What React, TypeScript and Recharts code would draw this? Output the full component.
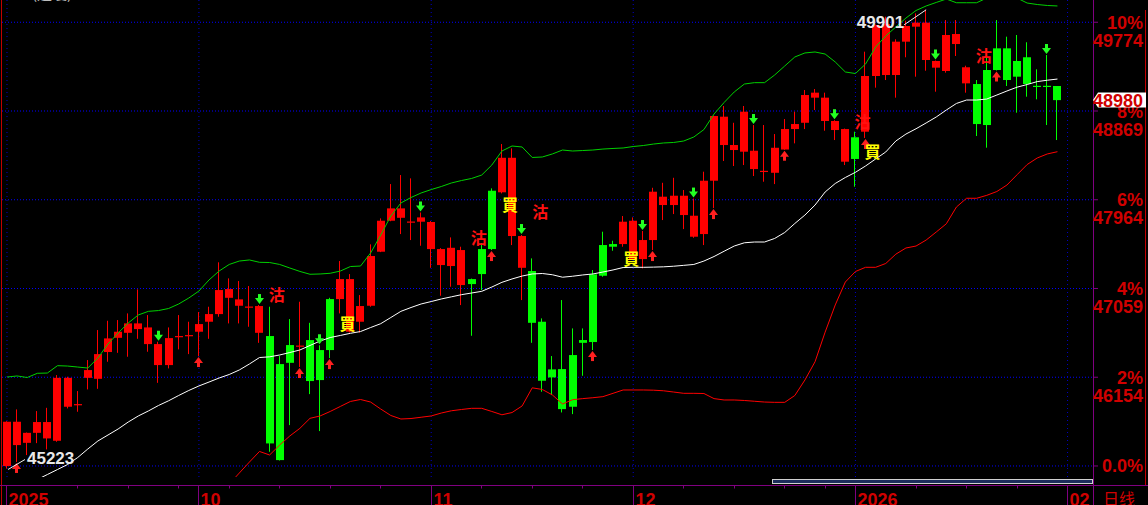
import React from 'react';
import { ComposedChart, Bar, Line, XAxis, YAxis, Scatter, CartesianGrid } from 'recharts';

// ---- data (daily candles, index 0..104) ----
const openP = [45248,45462,45485,45587,45530,45506,45853,45877,46148,46138,
46411,46556,46607,46645,46492,46278,46278,46569,46579,46618,
46720,46798,46964,46883,46870,46607,46574,46288,46482,46472,
46533,46431,46951,46951,46618,46720,46883,47434,47750,47780,
47737,47740,47461,47298,47288,47094,47155,47461,48056,48040,
47594,47270,47237,46720,46234,46237,46380,46533,47203,47502,
47512,47512,47356,47359,47553,47910,47910,47808,47587,47614,
48158,48522,48471,48454,48277,48255,48239,48476,48685,48749,
49005,48767,48675,48352,48601,48658,49226,49236,49236,49576,
49729,49389,49311,49277,49552,49151,49144,49287,49508,49508,
49379,49417,49126,49126,49124];

const highP = [45705,45826,45590,45809,45842,46176,46159,46013,46329,46635,
46730,46737,46805,47050,46788,46516,46662,46788,46720,46819,
46873,47326,47162,47135,47084,46890,46873,46370,46747,46924,
46709,46480,46964,47339,47206,46992,47509,47774,48124,48216,
48182,47834,47747,47471,47580,47485,47160,47522,48080,48532,
48488,47604,47366,46754,46370,46941,46652,46652,47247,47638,
47546,47798,47784,47645,48086,48137,48188,48063,47976,48250,
48823,48920,48749,48920,48726,48726,48634,48787,48862,49083,
49093,49056,48775,48690,48658,49474,49751,49831,49600,49790,
49865,49901,49384,49797,49797,49331,49185,49491,49797,49627,
49644,49570,49294,49440,49124];

const lowP = [45223,45290,45360,45482,45418,45496,45836,45802,46030,46036,
46312,46403,46363,46546,46414,46097,46244,46438,46390,46370,
46546,46771,46703,46703,46669,46505,45394,45305,45666,46258,
45982,45605,46349,46805,46610,46610,46873,47430,47745,47614,
47553,47495,47270,46985,47077,46890,46577,47043,47451,48029,
47502,46941,46505,46006,45972,45795,45778,46169,46431,47179,
47444,47485,47349,47264,47451,47757,47818,47665,47576,47502,
47879,48359,48308,48318,48206,48148,48124,48474,48539,48685,
48879,48668,48573,48318,48097,48594,49107,49185,49005,49417,
49219,49280,49066,49260,49430,49056,48614,48495,49282,49124,
48852,49015,48988,48726,48573];

const closeP = [45700,45700,45587,45697,45697,46148,46148,45880,46227,46390,
46550,46618,46703,46703,46662,46492,46553,46574,46584,46696,
46798,47043,47053,46948,46875,46880,45479,45309,46301,46477,
46115,46125,46431,47155,47155,46880,47390,47750,47876,47876,
47742,47784,47737,47461,47474,47451,47104,47206,47461,48392,
48392,47594,46709,46118,46152,45829,45853,46505,46513,47189,
47485,47740,47750,47553,48046,47995,48005,48005,47801,48158,
48818,48811,48522,48862,48464,48259,48494,48685,48736,49032,
49056,49005,48767,48685,48380,49226,49746,49756,49576,49736,
49770,49770,49379,49644,49654,49315,48736,48726,49287,49185,
49219,49144,49122,49122,48980];

// Bollinger bands
const upperBand = [46156,46167,46151,46194,46197,46272,46268,46258,46248,46350,
46493,46605,46707,46789,46826,46834,46855,46901,46962,47033,
47146,47237,47304,47339,47350,47326,47324,47304,47268,47233,
47204,47207,47214,47237,47283,47288,47421,47604,47798,47931,
47987,48033,48068,48099,48135,48160,48181,48216,48318,48461,
48512,48502,48395,48400,48431,48471,48461,48466,48471,48481,
48487,48492,48507,48517,48532,48543,48548,48563,48604,48680,
48838,48956,49063,49144,49158,49158,49236,49328,49420,49461,
49471,49450,49369,49267,49251,49348,49522,49634,49726,49817,
49894,49940,49976,50011,49973,49973,49973,50021,50032,50032,
50021,49970,49955,49945,49940];

const midBand = [44943,45004,45065,45111,45162,45213,45264,45335,45422,45504,
45565,45626,45697,45759,45810,45866,45914,45968,46019,46065,
46105,46146,46182,46228,46289,46355,46362,46381,46406,46432,
46478,46523,46559,46580,46602,46620,46661,46700,46763,46826,
46865,46901,46926,46952,46974,46996,47013,47030,47074,47122,
47156,47186,47207,47212,47199,47174,47184,47197,47207,47227,
47248,47273,47275,47275,47277,47280,47286,47295,47304,47339,
47385,47439,47492,47525,47533,47533,47569,47630,47722,47808,
47910,48043,48130,48191,48244,48308,48380,48451,48563,48634,
48688,48747,48808,48879,48946,48981,48981,48991,49032,49073,
49112,49139,49169,49183,49195];

const lowerBand = [null,null,null,null,null,null,null,null,null,null,
null,null,null,null,null,null,null,null,null,null,
null,null,45065,45177,45289,45397,45361,45463,45555,45633,
45735,45759,45805,45856,45907,45927,45901,45830,45764,45728,
45733,45746,45759,45789,45812,45825,45837,45837,45805,45771,
45794,45861,46046,46029,45973,45881,45925,45936,45945,45956,
45990,46024,46024,46024,46022,46016,46003,45990,45990,45988,
45936,45922,45922,45917,45909,45901,45898,45898,45968,46126,
46312,46614,46891,47125,47232,47275,47275,47314,47409,47472,
47492,47553,47635,47719,47890,47979,47979,48009,48048,48114,
48219,48323,48390,48431,48454];

// signal arrows (candle indices)
const downArrowIdx = [15, 25, 31, 41, 51, 63, 68, 74, 82, 92, 103];
const upArrowIdx = [1, 19, 29, 32, 48, 58, 64, 70, 77, 85, 98];

// buy / sell annotations (index position, price level)
const sellIdx = [26.7, 46.7, 52.8, 84.7, 96.7];
const sellLevel = [46993, 47574, 47839, 48757, 49430];
const buyIdx = [33.7, 49.8, 61.8, 85.7];
const buyLevel = [46697, 47910, 47360, 48451];

// axes
const basePrice = 45249;
const gridValues = [45249, 46154, 47059, 47964, 48869, 49774];
const pctLabels = ['0.0%', '2%', '4%', '6%', '8%', '10%'];
const monthTicks = [0, 19, 42, 62, 84, 105];
const monthLabels = ['2025', '10', '11', '12', '2026', '02'];
const weekTicks = [7, 12, 17, 22, 27, 32, 37, 47, 52, 57, 67, 72, 77, 81, 90, 95, 100];

// ---- derived table ----
const data = openP.map((o, i) => ({
  i,
  open: o,
  high: highP[i],
  low: lowP[i],
  close: closeP[i],
  range: [lowP[i], highP[i]],
  upper: upperBand[i],
  mid: midBand[i],
  lower: lowerBand[i],
}));
const lastClose = closeP[closeP.length - 1];
const maxHigh = Math.max(...highP);
const minLow = Math.min(...lowP);
const downData = downArrowIdx.map((i) => ({ i, v: highP[i] }));
const upData = upArrowIdx.map((i) => ({ i, v: lowP[i] }));
const highMark = [{ i: highP.indexOf(maxHigh), v: maxHigh }];
const lowMark = [{ i: lowP.indexOf(minLow), v: minLow }];
const sellData = sellIdx.map((i, k) => ({ i, v: sellLevel[k] }));
const buyData = buyIdx.map((i, k) => ({ i, v: buyLevel[k] }));

const UP = '#ff0000';
const DOWN = '#00ff00';
const AXIS_RED = '#d00000';
const PURPLE = '#800080';
const FONT = '"Liberation Sans", Arial, sans-serif';
const CJK = '"Noto Sans CJK TC", "Noto Sans CJK SC", sans-serif';

const wickX = (cx: number) => Math.round(cx - 4) + 3;

function Candle(props: any) {
  const { x, y, width, height, payload } = props;
  if (!payload || height == null || isNaN(y)) return null;
  const { open, close, high, low } = payload;
  const k = height / (high - low || 1);
  const yOf = (v: number) => y + (high - v) * k;
  const cx = x + width / 2;
  const upC = close >= open;
  const col = upC ? UP : DOWN;
  const bt = yOf(Math.max(open, close));
  const bb = yOf(Math.min(open, close));
  const bx = Math.round(cx - 4);
  return (
    <g>
      <rect x={bx + 3} y={y} width={1} height={Math.max(height, 1)} fill={col} />
      <rect x={bx} y={bt} width={8} height={Math.max(bb - bt, 1.2)} fill={col} />
    </g>
  );
}

function DownArrow(props: any) {
  const { cx, cy } = props;
  const wx = wickX(cx);
  const c = wx + 0.5;
  const top = cy - 11;
  return (
    <g fill="#22ff22">
      <rect x={wx - 1} y={top} width={3} height={5} />
      <polygon points={`${c - 4.5},${top + 4} ${c + 4.5},${top + 4} ${c},${top + 10}`} />
    </g>
  );
}

function UpArrow(props: any) {
  const { cx, cy } = props;
  const wx = wickX(cx);
  const c = wx + 0.5;
  const top = cy + 1;
  return (
    <g fill="#ff2020">
      <polygon points={`${c},${top} ${c - 4.5},${top + 6} ${c + 4.5},${top + 6}`} />
      <rect x={wx - 1} y={top + 5} width={3} height={5} />
    </g>
  );
}

function HighLabel(props: any) {
  const { cx, cy, payload } = props;
  return (
    <g>
      <line x1={cx - 22} y1={cy + 15} x2={cx} y2={cy} stroke="#f0f0f0" strokeWidth={1} />
      <text x={cx - 22} y={cy + 18.5} textAnchor="end" fill="#e8e8e8" fontSize={17} fontWeight="bold" fontFamily={FONT}>
        {payload.v}
      </text>
    </g>
  );
}

function LowLabel(props: any) {
  const { cx, cy, payload } = props;
  return (
    <g>
      <line x1={cx + 1} y1={cy + 1} x2={cx + 18} y2={cy - 9} stroke="#f0f0f0" strokeWidth={1} />
      <text x={cx + 20} y={cy - 5} textAnchor="start" fill="#e8e8e8" fontSize={17} fontWeight="bold" fontFamily={FONT}>
        {payload.v}
      </text>
    </g>
  );
}

function SellMark(props: any) {
  const { cx, cy } = props;
  return (
    <text x={cx} y={cy + 6} textAnchor="middle" fill="#ff1010" fontSize={16} fontWeight="bold" fontFamily={CJK}>
      沽
    </text>
  );
}

function BuyMark(props: any) {
  const { cx, cy } = props;
  return (
    <text x={cx} y={cy + 6} textAnchor="middle" fill="#ffff00" fontSize={16} fontWeight="bold" fontFamily={CJK}>
      買
    </text>
  );
}

function RightTick(props: any) {
  const { y, payload } = props;
  const v = payload.value;
  if (v === lastClose) {
    return (
      <g>
        <polygon
          points={`1093,${y} 1098,${y - 7.5} 1146,${y - 7.5} 1146,${y + 7.5} 1098,${y + 7.5}`}
          fill="#ffffff"
        />
        <text x={1143} y={y + 6.5} textAnchor="end" fill={AXIS_RED} fontSize={18} fontWeight="bold" fontFamily={FONT}>
          {v}
        </text>
      </g>
    );
  }
  const k = gridValues.indexOf(v);
  return (
    <g>
      <line x1={1093} x2={1098} y1={y} y2={y} stroke={PURPLE} />
      <text x={1143} y={y + 6.5} textAnchor="end" fill={AXIS_RED} fontSize={18} fontWeight="bold" fontFamily={FONT}>
        {pctLabels[k]}
      </text>
      {v !== basePrice && (
        <text x={1143} y={y + 24.5} textAnchor="end" fill={AXIS_RED} fontSize={18} fontWeight="bold" fontFamily={FONT}>
          {v}
        </text>
      )}
    </g>
  );
}

function BottomTick(props: any) {
  const { x, payload } = props;
  const v = payload.value;
  const px = Math.floor(x) + 0.5;
  const k = monthTicks.indexOf(v);
  if (k >= 0) {
    return (
      <g>
        <line x1={px} x2={px} y1={485} y2={505} stroke={PURPLE} />
        <text x={px + 2} y={506} fill={AXIS_RED} fontSize={18} fontWeight="bold" fontFamily={FONT}>
          {monthLabels[k]}
        </text>
      </g>
    );
  }
  return <line x1={px} x2={px} y1={485} y2={488.5} stroke={PURPLE} />;
}

export default function App() {
  return (
    <div style={{ position: 'absolute', left: 0, top: 0, width: 1148, height: 505, background: '#000', overflow: 'hidden' }}>
      <svg width={1148} height={505} style={{ position: 'absolute', left: 0, top: 0 }}>
        <rect x={0} y={0} width={1148} height={505} fill="#000" />
        <text x={32} y={-1} fill="#bdbdbd" fontSize={15} fontFamily={CJK}>(道瓊)</text>
        <line x1={1.5} x2={1.5} y1={0} y2={505} stroke="#c00000" />
        <line x1={1093.5} x2={1093.5} y1={0} y2={505} stroke={PURPLE} />
        <line x1={0} x2={1148} y1={485.5} y2={485.5} stroke={PURPLE} />
        <line x1={1145.5} x2={1145.5} y1={10} y2={485} stroke="#c00000" />
        <rect x={772.5} y={479.5} width={320} height={4} fill="#1c2c5c" stroke="#d0d0d0" />
        <text x={1103} y={505} fill={AXIS_RED} fontSize={16} fontFamily='"Noto Sans CJK SC", sans-serif'>日线</text>
      </svg>
      <div style={{ position: 'absolute', left: 0, top: 0 }}>
        <ComposedChart width={1148} height={505} data={data} margin={{ top: 0, right: 0, bottom: 0, left: 2 }}>
          <CartesianGrid
            horizontal={true}
            vertical={false}
            horizontalValues={gridValues}
            stroke="#0000ff"
            strokeDasharray="1 2"
          />
          <CartesianGrid
            horizontal={false}
            vertical={true}
            verticalValues={monthTicks}
            stroke="#0000c8"
            strokeDasharray="1 3"
          />
          <XAxis
            dataKey="i"
            type="number"
            domain={[-0.495, 107.52]}
            allowDataOverflow
            ticks={[...monthTicks, ...weekTicks]}
            interval={0}
            height={28}
            axisLine={false}
            tickLine={false}
            tick={<BottomTick />}
          />
          <YAxis
            orientation="right"
            type="number"
            width={55}
            domain={[45136.6, 50001]}
            allowDataOverflow
            ticks={[...gridValues, lastClose]}
            interval={0}
            axisLine={false}
            tickLine={false}
            tick={<RightTick />}
          />
          <Bar dataKey="range" barSize={8} shape={<Candle />} isAnimationActive={false} />
          <Line dataKey="upper" stroke="#00d000" strokeWidth={1} dot={false} activeDot={false} isAnimationActive={false} />
          <Line dataKey="mid" stroke="#ffffff" strokeWidth={1} dot={false} activeDot={false} isAnimationActive={false} />
          <Line dataKey="lower" stroke="#ff0000" strokeWidth={1} dot={false} activeDot={false} isAnimationActive={false} connectNulls={false} />
          <Scatter data={downData} dataKey="v" shape={<DownArrow />} isAnimationActive={false} />
          <Scatter data={upData} dataKey="v" shape={<UpArrow />} isAnimationActive={false} />
          <Scatter data={sellData} dataKey="v" shape={<SellMark />} isAnimationActive={false} />
          <Scatter data={buyData} dataKey="v" shape={<BuyMark />} isAnimationActive={false} />
          <Scatter data={highMark} dataKey="v" shape={<HighLabel />} isAnimationActive={false} />
          <Scatter data={lowMark} dataKey="v" shape={<LowLabel />} isAnimationActive={false} />
        </ComposedChart>
      </div>
    </div>
  );
}
